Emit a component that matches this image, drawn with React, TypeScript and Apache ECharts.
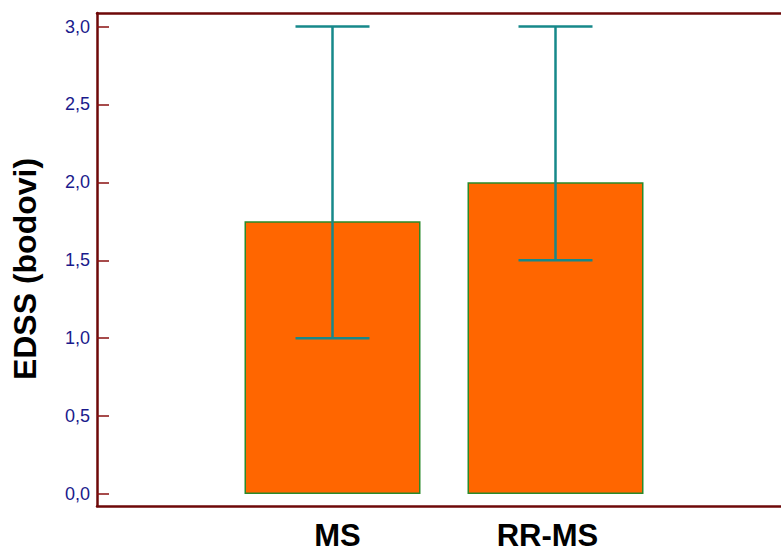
import React, { useEffect, useRef } from "react";
import * as echarts from "echarts";

const categories = ["MS", "RR-MS"];
const medianValues = [1.75, 2.0];
const lowValues = [1.0, 1.5];
const highValues = [3.0, 3.0];
const yAxisTitle = "EDSS (bodovi)";
const yMin = -0.077;
const yMax = 3.087;

export default function App() {
  const ref = useRef<HTMLDivElement>(null);
  useEffect(() => {
    if (!ref.current) return;
    const chart = echarts.init(ref.current, undefined, { renderer: "svg" });
    const errData = categories.map((c, i) => [i, lowValues[i], highValues[i]]);
    const frameLine = { show: true, onZero: false, lineStyle: { color: "#6E0808", width: 2.5 } };
    const labelPads = [[0, 0, 0, 10], [0, 16, 0, 0]];
    chart.setOption({
      animation: false,
      backgroundColor: "#ffffff",
      grid: [
        { left: 97, top: 13, bottom: 46, right: 0 },
        { left: 221, width: 446, top: 13, bottom: 46 },
      ],
      xAxis: [
        {
          type: "value",
          gridIndex: 0,
          position: "bottom",
          min: 0,
          max: 1,
          axisLine: frameLine,
          axisTick: { show: false },
          axisLabel: { show: false },
          splitLine: { show: false },
        },
        {
          type: "value",
          gridIndex: 0,
          position: "top",
          min: 0,
          max: 1,
          axisLine: frameLine,
          axisTick: { show: false },
          axisLabel: { show: false },
          splitLine: { show: false },
        },
        {
          type: "category",
          gridIndex: 1,
          data: categories.map((c, i) => ({
            value: c,
            textStyle: { padding: labelPads[i] },
          })),
          axisLine: { show: false },
          axisTick: { show: false },
          axisLabel: {
            margin: 14,
            color: "#000000",
            fontSize: 31,
            fontWeight: "bold",
            fontFamily: "Liberation Sans, Arial, sans-serif",
          },
        },
      ],
      yAxis: [
        {
          type: "value",
          gridIndex: 0,
          min: yMin,
          max: yMax,
          splitNumber: 6,
          axisLine: frameLine,
          axisTick: {
            show: true,
            inside: true,
            length: 12,
            lineStyle: { color: "#8A1010", width: 1.5 },
          },
          splitLine: { show: false },
          axisLabel: {
            showMinLabel: false,
            showMaxLabel: false,
            margin: 7,
            color: "#1A1A8C",
            fontSize: 18,
            fontFamily: "Liberation Sans, Arial, sans-serif",
            formatter: (v: number) =>
              Math.abs(v * 2 - Math.round(v * 2)) < 1e-6
                ? v.toFixed(1).replace(".", ",")
                : "",
          },
        },
        {
          type: "value",
          gridIndex: 1,
          min: yMin,
          max: yMax,
          show: false,
          splitLine: { show: false },
        },
      ],
      graphic: [
        {
          type: "text",
          x: 25,
          y: 269,
          rotation: Math.PI / 2,
          style: {
            text: yAxisTitle,
            align: "center",
            verticalAlign: "middle",
            fill: "#000000",
            font: "bold 32px 'Liberation Sans', Arial, sans-serif",
          },
        },
      ],
      series: [
        {
          type: "bar",
          xAxisIndex: 2,
          yAxisIndex: 1,
          data: medianValues,
          barWidth: 176,
          itemStyle: {
            color: "#FF6600",
            borderColor: "#2A8A2A",
            borderWidth: 1.5,
          },
          z: 2,
        },
        {
          type: "custom",
          xAxisIndex: 2,
          yAxisIndex: 1,
          data: errData,
          z: 3,
          renderItem: (params: any, api: any) => {
            const x = api.value(0);
            const lo = api.coord([x, api.value(1)]);
            const hi = api.coord([x, api.value(2)]);
            const hw = 37;
            const style = { stroke: "#16888A", lineWidth: 2.5 };
            return {
              type: "group",
              children: [
                { type: "line", shape: { x1: lo[0], y1: lo[1], x2: hi[0], y2: hi[1] }, style },
                { type: "line", shape: { x1: lo[0] - hw, y1: lo[1], x2: lo[0] + hw, y2: lo[1] }, style },
                { type: "line", shape: { x1: hi[0] - hw, y1: hi[1], x2: hi[0] + hw, y2: hi[1] }, style },
              ],
            };
          },
        },
      ],
    });
    return () => chart.dispose();
  }, []);
  return (
    <div
      ref={ref}
      style={{ position: "fixed", left: 0, top: 0, width: 781, height: 552 }}
    />
  );
}
